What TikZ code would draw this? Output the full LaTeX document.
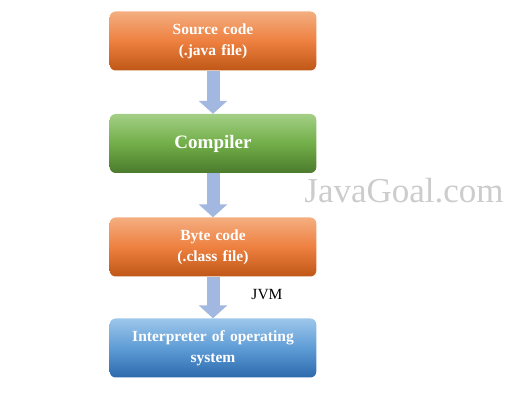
\documentclass[tikz,border=0pt]{standalone}
\usepackage{fontspec}
\setmainfont{LiberationSerif}[Extension = .ttf, UprightFont = *-Regular, BoldFont = *-Bold, ItalicFont = *-Italic, BoldItalicFont = *-BoldItalic]
\usetikzlibrary{positioning,arrows.meta}
\definecolor{orangetop}{HTML}{F4AE80}
\definecolor{orangemid}{HTML}{EE8040}
\definecolor{orangebot}{HTML}{BF5716}
\definecolor{greentop}{HTML}{A3CF86}
\definecolor{greenmid}{HTML}{72AE48}
\definecolor{greenbot}{HTML}{4B7A2C}
\definecolor{bluetop}{HTML}{9DC6EA}
\definecolor{bluemid}{HTML}{5E9CD6}
\definecolor{bluebot}{HTML}{2D69AC}
\definecolor{arrowblue}{HTML}{A2B8E0}

\begin{document}
\begin{tikzpicture}[
            x = 1pt, y = 1pt,
            box/.style = {rounded corners = 6pt, minimum width = 205pt, minimum height = 59pt,
                          text width = 200pt, align = center, text = white,
                          font = \rmfamily\bfseries\fontsize{15.5}{21}\selectfont},
            orangebox/.style = {box, top color = orangetop, bottom color = orangebot, middle color = orangemid},
            greenbox/.style = {box, top color = greentop, bottom color = greenbot, middle color = greenmid},
            bluebox/.style = {box, top color = bluetop, bottom color = bluebot, middle color = bluemid},
            flow/.style = {draw = arrowblue, line width = 13pt, -{Triangle[width = 28pt, length = 13pt]}}
        ]
        \useasboundingbox (0,0) rectangle (520,-411);
        \node[orangebox] (src) at (213,-41) {Source code\\(.java file)};
        \node[greenbox, font = \rmfamily\bfseries\fontsize{19}{23}\selectfont] (comp) at (213,-143.5) {Compiler};
        \node[orangebox] (byte) at (213,-247) {Byte code\\(.class file)};
        \node[bluebox] (interp) at (213,-348) {Interpreter of operating\\system};
        \node[font = \rmfamily\fontsize{15.5}{18}\selectfont] (jvm) at (267,-295) {JVM};
        \node[text = black!20, font = \rmfamily\fontsize{35}{40}\selectfont] (mark) at (404,-191) {JavaGoal.com};
        \draw[flow] (src.south) -- (comp.north);
        \draw[flow] (comp.south) -- (byte.north);
        \draw[flow] (byte.south) -- (interp.north);
    \end{tikzpicture}
\end{document}
